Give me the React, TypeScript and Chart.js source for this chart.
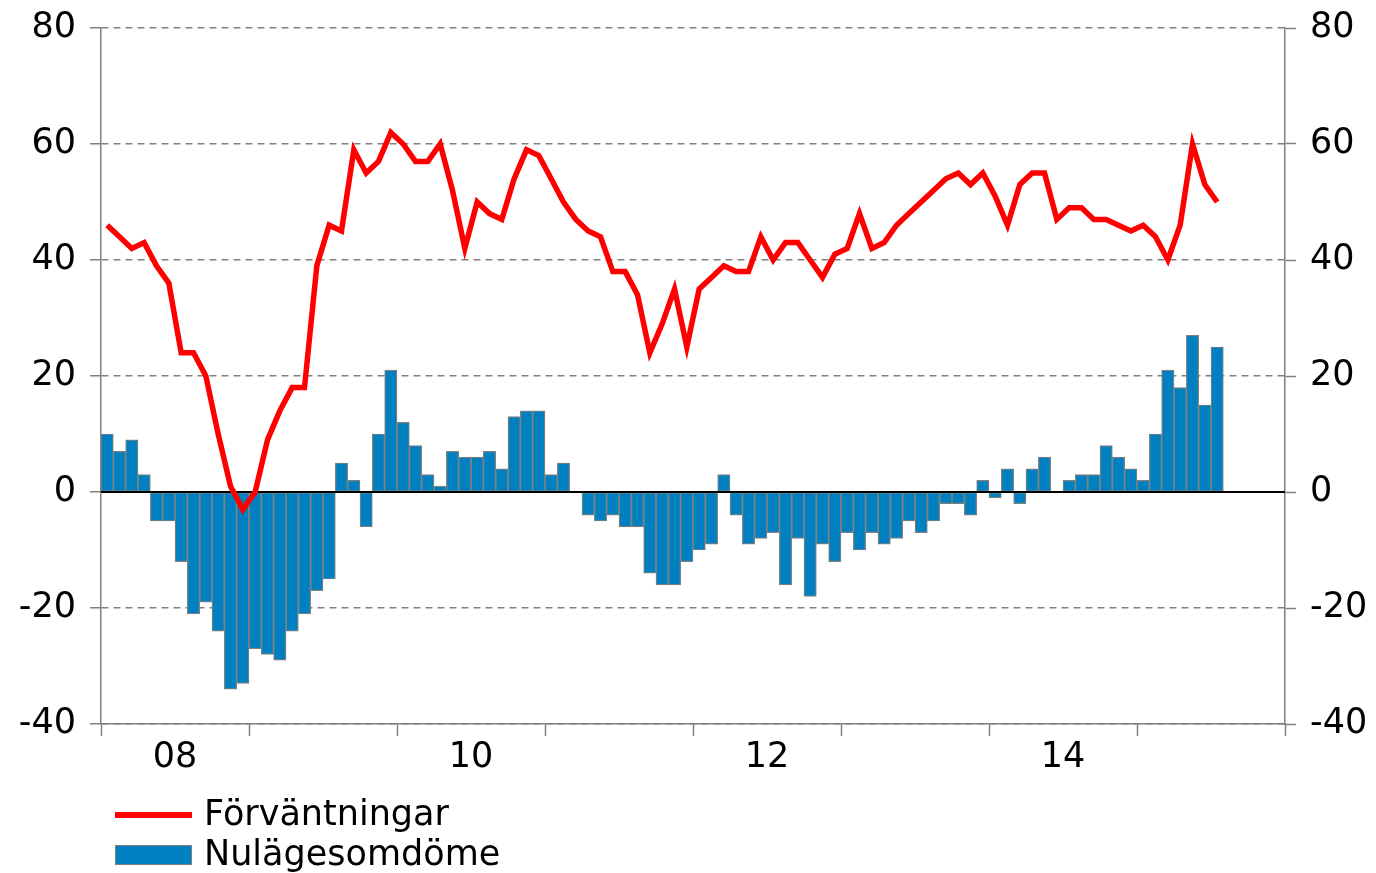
import React, { useEffect, useRef } from 'react';
import { Chart, registerables } from 'chart.js';

Chart.register(...registerables);

const years = ['08', '09', '10', '11', '12', '13', '14', '15'];

const forvantningar = [
  46, 44, 42, 43, 39, 36, 24, 24, 20, 10, 1, -3,
  0, 9, 14, 18, 18, 39, 46, 45, 59, 55, 57, 62,
  60, 57, 57, 60, 52, 42, 50, 48, 47, 54, 59, 58,
  54, 50, 47, 45, 44, 38, 38, 34, 24, 29, 35, 25,
  35, 37, 39, 38, 38, 44, 40, 43, 43, 40, 37, 41,
  42, 48, 42, 43, 46, 48, 50, 52, 54, 55, 53, 55,
  51, 46, 53, 55, 55, 47, 49, 49, 47, 47, 46, 45,
  46, 44, 40, 46, 60, 53, 50,
];

const nulagesomdome = [
  10, 7, 9, 3, -5, -5, -12, -21, -19, -24, -34, -33,
  -27, -28, -29, -24, -21, -17, -15, 5, 2, -6, 10, 21,
  12, 8, 3, 1, 7, 6, 6, 7, 4, 13, 14, 14,
  3, 5, 0, -4, -5, -4, -6, -6, -14, -16, -16, -12,
  -10, -9, 3, -4, -9, -8, -7, -16, -8, -18, -9, -12,
  -7, -10, -7, -9, -8, -5, -7, -5, -2, -2, -4, 2,
  -1, 4, -2, 4, 6, 0, 2, 3, 3, 8, 6, 4,
  2, 10, 21, 18, 27, 15, 25,
];

const yTicks = [-40, -20, 0, 20, 40, 60, 80];

const months: string[] = [];
years.forEach((y) => {
  for (let m = 1; m <= 12; m++) months.push(`${y}-${m}`);
});

const FONT = '"DejaVu Sans", Verdana, sans-serif';
const GREY = '#808080';

const zeroLine = {
  id: 'zeroLine',
  afterDatasetDraw(chart: any, args: any) {
    if (args.meta.type !== 'bar') return;
    const { ctx, chartArea } = chart;
    const y = chart.scales.y.getPixelForValue(0);
    ctx.save();
    ctx.strokeStyle = '#000000';
    ctx.lineWidth = 2;
    ctx.beginPath();
    ctx.moveTo(chartArea.left, y);
    ctx.lineTo(chartArea.right, y);
    ctx.stroke();
    ctx.restore();
  },
};

export default function App() {
  const ref = useRef<HTMLCanvasElement>(null);

  useEffect(() => {
    if (!ref.current) return;
    const font = { family: FONT, size: 35 };
    const chart = new Chart(ref.current, {
      type: 'bar',
      data: {
        labels: months,
        datasets: [
          {
            type: 'line',
            label: 'Förväntningar',
            data: forvantningar,
            borderColor: '#FF0000',
            backgroundColor: '#FF0000',
            borderWidth: 5.5,
            pointRadius: 0,
            tension: 0,
            fill: false,
            xAxisID: 'x',
            yAxisID: 'y',
          } as any,
          {
            type: 'bar',
            label: 'Nulägesomdöme',
            data: nulagesomdome,
            backgroundColor: '#0080C0',
            borderColor: GREY,
            borderWidth: 1.2,
            borderSkipped: false,
            barPercentage: 1,
            categoryPercentage: 1,
            xAxisID: 'x',
            yAxisID: 'y',
          },
        ],
      },
      options: {
        animation: false,
        responsive: false,
        devicePixelRatio: 1,
        layout: { padding: { top: 28, bottom: 89, left: 0, right: 0 } },
        plugins: { legend: { display: false }, tooltip: { enabled: false } },
        scales: {
          x: {
            type: 'category',
            display: false,
            offset: true,
            grid: { display: false },
          },
          x2: {
            type: 'linear',
            position: 'bottom',
            min: 0,
            max: months.length,
            offset: false,
            afterBuildTicks: (s: any) => {
              const t = [];
              for (let v = 0; v <= months.length; v += 6) t.push({ value: v });
              s.ticks = t;
            },
            afterFit: (s: any) => {
              s.height = 60;
              s.paddingLeft = 0;
              s.paddingRight = 0;
            },
            grid: {
              offset: false,
              drawOnChartArea: false,
              drawTicks: true,
              tickLength: 12,
              tickWidth: 1.5,
              tickColor: (c: any) => (c.tick && c.tick.value % 12 === 0 ? GREY : 'rgba(0,0,0,0)'),
            },
            border: { display: true, color: GREY, width: 1.5 },
            ticks: {
              autoSkip: false,
              maxRotation: 0,
              minRotation: 0,
              padding: 1,
              color: '#000',
              font,
              callback: (v: any) => {
                const n = Number(v);
                if (n % 12 !== 6) return '';
                const k = (n - 6) / 12;
                return k % 2 === 0 ? years[k] : '';
              },
            },
          },
          y: {
            position: 'left',
            min: -40,
            max: 80,
            afterBuildTicks: (s: any) => {
              s.ticks = yTicks.map((v) => ({ value: v }));
            },
            afterFit: (s: any) => {
              s.width = 101;
              s.paddingTop = 0;
              s.paddingBottom = 0;
            },
            grid: {
              color: GREY,
              lineWidth: 1.5,
              tickLength: 11,
              tickColor: GREY,
              tickWidth: 1.5,
            },
            border: { display: true, color: GREY, width: 1.5, dash: [7, 5] },
            ticks: { padding: 14, color: '#000', font },
          },
          y2: {
            position: 'right',
            min: -40,
            max: 80,
            afterBuildTicks: (s: any) => {
              s.ticks = yTicks.map((v) => ({ value: v }));
            },
            afterFit: (s: any) => {
              s.width = 91;
              s.paddingTop = 0;
              s.paddingBottom = 0;
            },
            grid: {
              drawOnChartArea: false,
              tickLength: 11,
              tickColor: GREY,
              tickWidth: 1.5,
            },
            border: { display: true, color: GREY, width: 1.5 },
            ticks: { padding: 14, color: '#000', font },
          },
        },
      } as any,
      plugins: [zeroLine],
    });
    return () => chart.destroy();
  }, []);

  const textStyle: React.CSSProperties = {
    position: 'absolute',
    left: 204,
    fontFamily: FONT,
    fontSize: 35,
    lineHeight: '35px',
    color: '#000',
    whiteSpace: 'nowrap',
  };

  return (
    <div style={{ position: 'fixed', left: 0, top: 0, width: 1376, height: 873, background: '#fff' }}>
      <canvas ref={ref} width={1376} height={873} style={{ display: 'block' }} />
      <div style={{ position: 'absolute', left: 115, top: 812, width: 77, height: 6, background: '#FF0000' }} />
      <div style={{ ...textStyle, top: 796 }}>Förväntningar</div>
      <div
        style={{
          position: 'absolute',
          left: 115,
          top: 845,
          width: 77,
          height: 20,
          background: '#0080C0',
          border: `1px solid ${GREY}`,
          boxSizing: 'border-box',
        }}
      />
      <div style={{ ...textStyle, top: 836 }}>Nulägesomdöme</div>
    </div>
  );
}
